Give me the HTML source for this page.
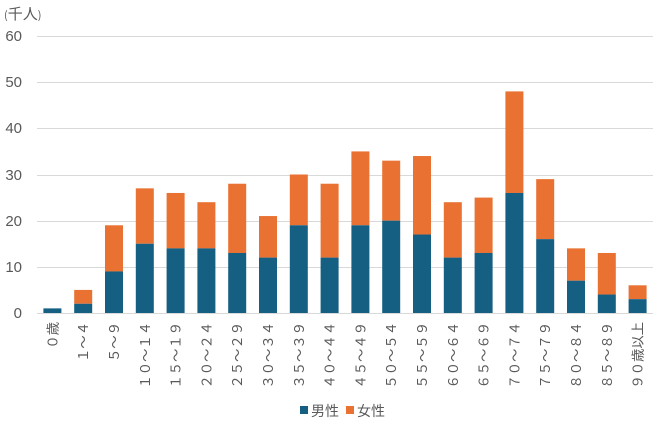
<!DOCTYPE html>
<html><head><meta charset="utf-8"><style>
body{margin:0;background:#fff;}
svg{display:block;font-family:"Liberation Sans","Noto Sans CJK JP",sans-serif;}
</style></head><body>
<svg width="660" height="426" viewBox="0 0 660 426" xmlns="http://www.w3.org/2000/svg">
<rect width="660" height="426" fill="#fff"/>
<text x="4" y="19" font-size="15" fill="#595959" font-family="Noto Sans CJK JP, sans-serif"><tspan font-size="11">(</tspan>千人<tspan font-size="11">)</tspan></text>
<g stroke="#d9d9d9" stroke-width="1">
<line x1="37" x2="653" y1="36.5" y2="36.5"/>
<line x1="37" x2="653" y1="82.5" y2="82.5"/>
<line x1="37" x2="653" y1="128.5" y2="128.5"/>
<line x1="37" x2="653" y1="175.5" y2="175.5"/>
<line x1="37" x2="653" y1="221.5" y2="221.5"/>
<line x1="37" x2="653" y1="267.5" y2="267.5"/>
<line x1="37" x2="653" y1="313.5" y2="313.5"/>
</g>
<g font-size="15" fill="#595959" text-anchor="end">
<text x="22" y="41">60</text><text x="22" y="87">50</text><text x="22" y="133">40</text>
<text x="22" y="180">30</text><text x="22" y="226">20</text><text x="22" y="272">10</text>
<text x="22" y="318">0</text>
</g>
<g id="bars"></g>
<g id="labels" font-size="13.3" fill="#595959" font-family="Noto Sans CJK JP, sans-serif"></g>
<rect x="300" y="406" width="8" height="8" fill="#155f82"/>
<text x="311" y="416" font-size="14" fill="#595959" font-family="Noto Sans CJK JP, sans-serif">男性</text>
<rect x="346" y="406" width="8" height="8" fill="#e97132"/>
<text x="357" y="416" font-size="14" fill="#595959" font-family="Noto Sans CJK JP, sans-serif">女性</text>
<script>
var m=[1,2,9,15,14,14,13,12,19,12,19,20,17,12,13,26,16,7,4,3];
var t=[1,5,19,27,26,24,28,21,30,28,35,33,34,24,25,48,29,14,13,6];
var L=["０歳","１～４","５～９","１０～１４","１５～１９","２０～２４","２５～２９","３０～３４","３５～３９","４０～４４","４５～４９","５０～５４","５５～５９","６０～６４","６５～６９","７０～７４","７５～７９","８０～８４","８５～８９","９０歳以上"];
var ns="http://www.w3.org/2000/svg",b=document.getElementById("bars"),lb=document.getElementById("labels");
var k=277/60,base=313;
for(var i=0;i<20;i++){
 var cx=52.4+i*30.8,x=cx-9;
 var r=document.createElementNS(ns,"rect");
 r.setAttribute("x",x);r.setAttribute("width",18);
 r.setAttribute("y",base-t[i]*k);r.setAttribute("height",(t[i]-m[i])*k);r.setAttribute("fill","#e97132");b.appendChild(r);
 r=document.createElementNS(ns,"rect");
 r.setAttribute("x",x);r.setAttribute("width",18);
 r.setAttribute("y",base-m[i]*k);r.setAttribute("height",m[i]*k);r.setAttribute("fill","#155f82");b.appendChild(r);
 var tx=document.createElementNS(ns,"text");
 tx.setAttribute("transform","translate("+(cx+5)+",322) rotate(-90)");
 tx.setAttribute("text-anchor","end");tx.textContent=L[i];lb.appendChild(tx);
}
</script>
</svg>
</body></html>
